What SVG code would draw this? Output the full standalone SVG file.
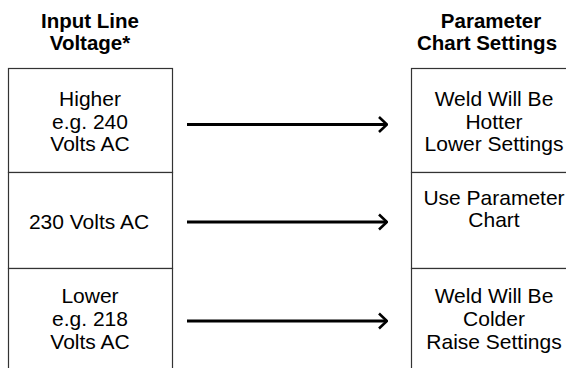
<svg xmlns="http://www.w3.org/2000/svg" width="566" height="368" viewBox="0 0 566 368">
<style>
text{font-family:"Liberation Sans",Arial,sans-serif;fill:#000;text-anchor:middle}
.h{font-size:20.5px;font-weight:bold}
.b{font-size:21px}
.box{fill:#fff;stroke:#333;stroke-width:1.2}
.arr{stroke:#000;stroke-width:3;fill:none}
</style>
<defs>
<marker id="ah" viewBox="0 0 10 18" refX="9" refY="9" markerWidth="10" markerHeight="18" markerUnits="userSpaceOnUse" orient="auto">
<path d="M1,1.5 L9,9 L1,16.5" fill="none" stroke="#000" stroke-width="2.6"/>
</marker>
</defs>
<rect width="566" height="368" fill="#fff"/>
<g id="heading-left">
<text class="h" x="90" y="28">Input Line</text>
<text class="h" x="90" y="50">Voltage*</text>
</g>
<g id="heading-right">
<text class="h" x="491" y="28">Parameter</text>
<text class="h" x="487" y="50">Chart Settings</text>
</g>
<g id="in-higher">
<rect class="box" x="8.5" y="68.5" width="164" height="104"/>
<text class="b" x="90" y="106">Higher</text>
<text class="b" x="90" y="129">e.g. 240</text>
<text class="b" x="90" y="151">Volts AC</text>
</g>
<g id="in-230">
<rect class="box" x="8.5" y="172.5" width="164" height="96"/>
<text class="b" x="89" y="229">230 Volts AC</text>
</g>
<g id="in-lower">
<rect class="box" x="8.5" y="268.5" width="164" height="104"/>
<text class="b" x="90" y="303">Lower</text>
<text class="b" x="90" y="326">e.g. 218</text>
<text class="b" x="90" y="349">Volts AC</text>
</g>
<g id="out-hotter">
<rect class="box" x="411.5" y="68.5" width="170" height="104"/>
<text class="b" x="494" y="106">Weld Will Be</text>
<text class="b" x="494" y="129">Hotter</text>
<text class="b" x="494" y="151">Lower Settings</text>
</g>
<g id="out-chart">
<rect class="box" x="411.5" y="172.5" width="170" height="96"/>
<text class="b" x="494" y="205">Use Parameter</text>
<text class="b" x="494" y="227">Chart</text>
</g>
<g id="out-colder">
<rect class="box" x="411.5" y="268.5" width="170" height="104"/>
<text class="b" x="494" y="303">Weld Will Be</text>
<text class="b" x="494" y="326">Colder</text>
<text class="b" x="494" y="349">Raise Settings</text>
</g>
<g id="connectors">
<line class="arr" x1="187" y1="124.5" x2="387" y2="124.5" marker-end="url(#ah)"/>
<line class="arr" x1="187" y1="222" x2="387" y2="222" marker-end="url(#ah)"/>
<line class="arr" x1="187" y1="321" x2="387" y2="321" marker-end="url(#ah)"/>
</g>
</svg>
